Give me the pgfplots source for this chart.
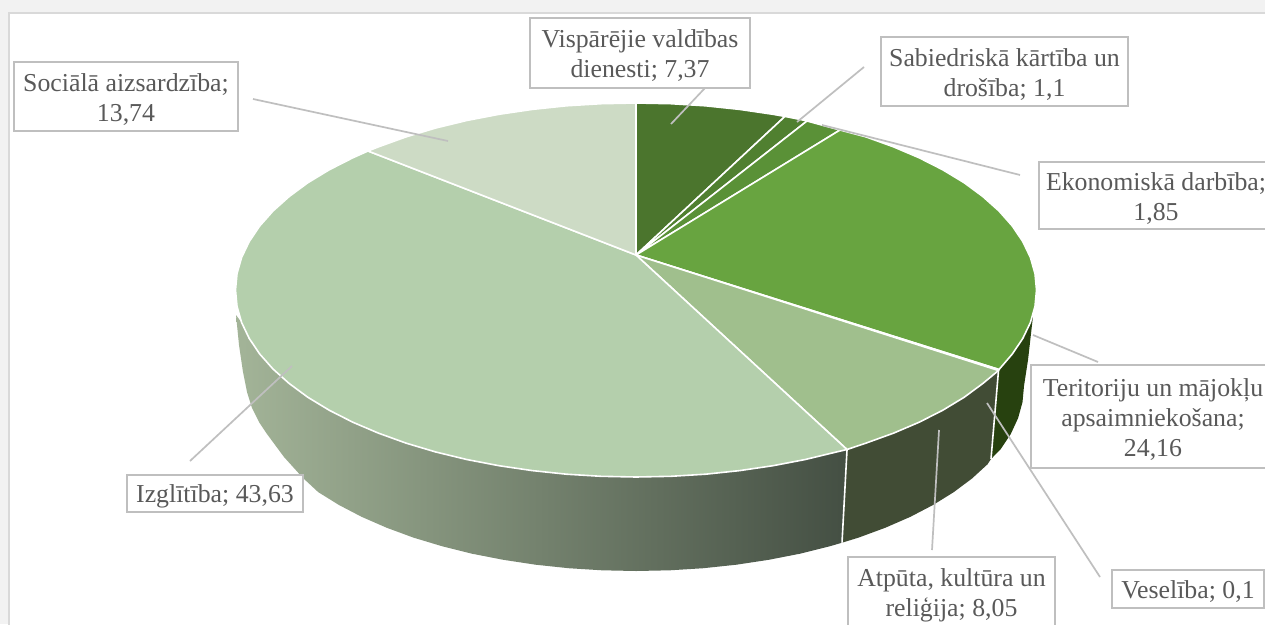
\documentclass[border=0pt]{standalone}
\usepackage{pgfplots}
\pgfplotsset{compat=1.18}
\usepackage{fontspec}
\setmainfont{Liberation Serif}
\definecolor{txt}{HTML}{595959}
\definecolor{lead}{HTML}{BFBFBF}
\definecolor{page}{HTML}{F2F2F2}
\definecolor{frame}{HTML}{D9D9D9}
\definecolor{wallL}{RGB}{163,180,152}
\definecolor{wallM}{RGB}{120,137,109}
\definecolor{wallR}{RGB}{68,79,67}
\definecolor{wallA}{RGB}{65,76,53}
\definecolor{wallT}{RGB}{39,65,15}
\definecolor{cVis}{RGB}{75,117,45}
\definecolor{cSab}{RGB}{80,128,48}
\definecolor{cEko}{RGB}{90,145,55}
\definecolor{cTer}{RGB}{104,164,64}
\definecolor{cAtp}{RGB}{160,191,141}
\definecolor{cIzg}{RGB}{180,207,172}
\definecolor{cSoc}{RGB}{205,219,197}
\tikzset{box/.style={draw=lead,line width=1.7pt,fill=white,inner sep=0pt},
  lab/.style={text=txt,align=center,inner sep=0pt,yshift=-3pt,
  font=\fontsize{25.8}{30}\selectfont},
  ld/.style={lead,line width=1.7pt}}
\newcommand{\lab}[5]{\node[box,minimum width=#3pt,minimum height=#4pt] at (axis cs:#1,#2) {};
  \node[lab] at (axis cs:#1,#2) {#5};}
\begin{document}
\begin{tikzpicture}
\begin{axis}[
  width=1265pt,height=624pt,scale only axis,
  xmin=0,xmax=1265,ymin=0,ymax=624,y dir=reverse,
  hide axis,no marks,
  wedge/.style={fill=#1,draw=white,line width=1.6pt,line join=round},
]
% page and chart area
\fill[page] (axis cs:0,0) rectangle (axis cs:1265,624);
\draw[fill=white,draw=frame,line width=1.4pt] (axis cs:9,13) rectangle (axis cs:1290,650);

% side walls
\addplot[draw=none,left color=wallL,middle color=wallM,right color=wallR] coordinates {
(847,449.5)(836.3,452)(805.3,459.5)(773,465.7)(739.7,470.6)(705.5,474.2)(670.9,476.3)(636,477)
(601.1,476.3)(566.5,474.2)(532.3,470.6)(499,465.7)(466.7,459.5)(435.8,452)(406.3,443.2)(378.6,433.2)
(352.8,422.2)(329.2,410.2)(307.9,397.3)(289.2,383.5)(273,369)(259.7,354)(249.2,338.4)(241.6,322.5)(236,315)
(239,345)(243,372)(247,392)(252,408)(259,422)(267,434)(284,457)(303,478)(318.2,492.1)
(338.8,504.9)(361.6,516.8)(386.6,527.7)(413.4,537.6)(442,546.2)(472,553.7)(503.3,559.8)(535.6,564.7)
(568.6,568.2)(602.2,570.3)(636,571)(669.8,570.3)(703.4,568.2)(736.4,564.7)(768.7,559.8)(800,553.7)(830,546.2)(842,542.7)
} -- cycle;
\addplot[draw=none,fill=wallA] coordinates {
(847,449.5)(865.7,443.2)(893.4,433.2)(919.2,422.2)(942.8,410.2)(964.1,397.3)(982.8,383.5)(998.5,370.5)
(991,459)(987.6,464.2)(972,478.5)(953.8,492.1)(933.2,504.9)(910.4,516.8)(885.4,527.7)(858.6,537.6)(842,542.7)
} -- cycle;
\addplot[draw=none,fill=wallT] coordinates {
(998.5,370.5)(1012.3,354)(1022.8,338.4)(1033,316)(1028,360)(1024,386)(1022.5,402.1)(1018.1,418.1)(1010.8,433.9)(1000.6,449.3)(991,459)
} -- cycle;
\addplot[white,line width=1.6pt] coordinates {(847,450)(842,542.7)};
\addplot[white,line width=1.6pt] coordinates {(998.5,370.5)(991,459)};

% top face
\addplot[wedge=cVis] coordinates {
(636,255)(636,103)(670.9,103.7)(705.5,105.8)(739.7,109.4)(773,114.3)(785,116.4)} -- cycle;
\addplot[wedge=cSab] coordinates {
(636,255)(785,116.4)(805.3,120.5)(807,121)} -- cycle;
\addplot[wedge=cEko] coordinates {
(636,255)(807,121)(840,130)} -- cycle;
\addplot[wedge=cTer] coordinates {
(636,255)(840,130)(865.7,136.8)(893.4,146.8)(919.2,157.8)(942.8,169.8)(964.1,182.7)(982.8,196.5)(999,211)
(1012.3,226)(1022.8,241.6)(1030.4,257.5)(1035,273.7)(1036.5,290)(1035,306.3)(1030.4,322.5)(1022.8,338.4)(1012.3,354)(999,369.5)} -- cycle;
\addplot[wedge=cTer] coordinates {
(636,255)(999,369.5)(998.5,370.5)} -- cycle;
\addplot[wedge=cAtp] coordinates {
(636,255)(998.5,370.5)(982.8,383.5)(964.1,397.3)(942.8,410.2)(919.2,422.2)(893.4,433.2)(865.7,443.2)(847,449.5)} -- cycle;
\addplot[wedge=cIzg] coordinates {
(636,255)(847,449.5)(836.3,452)(805.3,459.5)(773,465.7)(739.7,470.6)(705.5,474.2)(670.9,476.3)(636,477)
(601.1,476.3)(566.5,474.2)(532.3,470.6)(499,465.7)(466.7,459.5)(435.8,452)(406.3,443.2)(378.6,433.2)
(352.8,422.2)(329.2,410.2)(307.9,397.3)(289.2,383.5)(273,369)(259.7,354)(249.2,338.4)(241.6,322.5)(237,306.3)
(235.5,290)(237,273.7)(241.6,257.5)(249.2,241.6)(259.7,226)(273,211)(289.2,196.5)(307.9,182.7)(329.2,169.8)(352.8,157.8)(368,151)} -- cycle;
\addplot[wedge=cSoc] coordinates {
(636,255)(368,151)(378.6,146.8)(406.3,136.8)(435.8,128)(466.7,120.5)(499,114.3)(532.3,109.4)(566.5,105.8)(601.1,103.7)(636,103)} -- cycle;

% leader lines
\addplot[ld] coordinates {(253,99)(448,141)};
\addplot[ld] coordinates {(705,88)(671,124)};
\addplot[ld] coordinates {(864,67)(797,122)};
\addplot[ld] coordinates {(1020,175)(822,125)};
\addplot[ld] coordinates {(1098,362)(1033,335)};
\addplot[ld] coordinates {(1100,577)(987,403)};
\addplot[ld] coordinates {(939,430)(932,550)};
\addplot[ld] coordinates {(190,461)(292,366)};

% labels
\lab{126}{96.5}{224}{69}{Sociālā aizsardzība;\\13,74}
\lab{640}{53}{220}{70}{Vispārējie valdības\\dienesti; 7,37}
\lab{1004.5}{71.5}{247}{69}{Sabiedriskā kārtība un\\drošība; 1,1}
\lab{1156}{195.5}{234}{67}{Ekonomiskā darbība;\\1,85}
\lab{1153}{416.5}{244}{103}{Teritoriju un mājokļu\\apsaimniekošana;\\24,16}
\lab{1188}{589}{152}{38}{Veselība; 0,1}
\lab{951.5}{592}{207}{70}{Atpūta, kultūra un\\reliģija; 8,05}
\lab{215}{493.5}{176}{37}{Izglītība; 43,63}
\end{axis}
\end{tikzpicture}
\end{document}
